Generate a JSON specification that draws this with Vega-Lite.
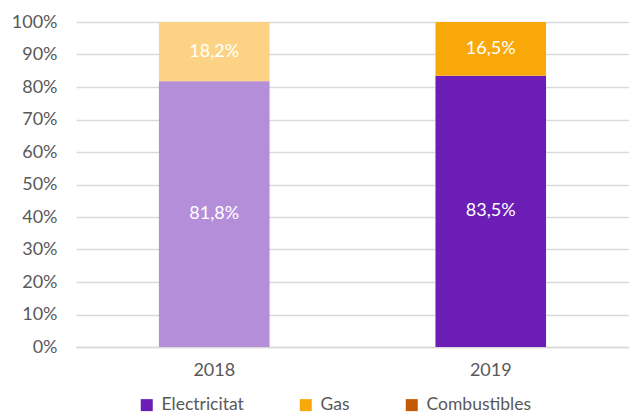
{
  "$schema": "https://vega.github.io/schema/vega-lite/v6.json",
  "width": 553,
  "height": 325,
  "autosize": "none",
  "padding": {"left": 76, "top": 22, "right": 0, "bottom": 67},
  "background": "white",
  "data": {
    "values": [
      {"year": "2018", "tipus": "Electricitat", "value": 0.818},
      {"year": "2018", "tipus": "Gas", "value": 0.182},
      {"year": "2018", "tipus": "Combustibles", "value": 0},
      {"year": "2019", "tipus": "Electricitat", "value": 0.835},
      {"year": "2019", "tipus": "Gas", "value": 0.165},
      {"year": "2019", "tipus": "Combustibles", "value": 0}
    ]
  },
  "encoding": {
    "x": {
      "field": "year",
      "type": "nominal",
      "scale": {"paddingInner": 0, "paddingOuter": 0},
      "axis": {
        "title": null,
        "labelAngle": 0,
        "ticks": false,
        "grid": false,
        "domainColor": "#D9D9D9",
        "domainWidth": 1.5,
        "labelPadding": 14,
        "labelColor": "#595959",
        "labelFont": "Lato",
        "labelFontSize": 18
      }
    },
    "y": {
      "field": "value",
      "type": "quantitative",
      "stack": "zero",
      "scale": {"domain": [0, 1]},
      "axis": {
        "title": null,
        "format": ".0%",
        "values": [0, 0.1, 0.2, 0.3, 0.4, 0.5, 0.6, 0.7, 0.8, 0.9, 1],
        "labelOverlap": false,
        "domain": false,
        "ticks": false,
        "gridColor": "#D9D9D9",
        "gridWidth": 1.5,
        "labelPadding": 19,
        "labelColor": "#595959",
        "labelFont": "Lato",
        "labelFontSize": 18
      }
    }
  },
  "layer": [
    {
      "mark": {"type": "bar", "width": {"band": 0.4}, "color": "white"},
      "encoding": {
        "detail": {"field": "tipus"},
        "order": {"field": "tipus", "sort": "ascending"}
      }
    },
    {
      "mark": {"type": "bar", "width": {"band": 0.4}},
      "encoding": {
        "order": {"field": "tipus", "sort": "ascending"},
        "color": {
          "field": "tipus",
          "type": "nominal",
          "scale": {
            "domain": ["Electricitat", "Gas", "Combustibles"],
            "range": ["#6B1DB6", "#F9A80A", "#C55A05"]
          },
          "legend": {
            "title": null,
            "orient": "none",
            "direction": "horizontal",
            "legendX": 62,
            "legendY": 374,
            "symbolType": "square",
            "symbolSize": 144,
            "symbolStrokeWidth": 0,
            "symbolOpacity": 1,
            "labelFont": "Lato",
            "labelFontSize": 17.5,
            "labelColor": "#595959",
            "labelOffset": 6,
            "columnPadding": 53
          }
        },
        "opacity": {
          "field": "year",
          "type": "nominal",
          "scale": {"domain": ["2018", "2019"], "range": [0.5, 1]},
          "legend": null
        }
      }
    },
    {
      "transform": [
        {"stack": "value", "groupby": ["year"], "sort": [{"field": "tipus", "order": "ascending"}], "as": ["v0", "v1"]},
        {"calculate": "(datum.v0 + datum.v1) / 2", "as": "mid"},
        {"filter": "datum.value > 0"}
      ],
      "mark": {"type": "text", "color": "white", "font": "Lato", "fontSize": 18, "baseline": "middle", "align": "center"},
      "encoding": {
        "y": {"field": "mid", "type": "quantitative", "stack": null},
        "text": {"field": "value", "type": "quantitative", "format": ".1%"}
      }
    }
  ],
  "config": {
    "view": {"stroke": null},
    "locale": {
      "number": {"decimal": ",", "thousands": ".", "grouping": [3], "currency": ["", " €"]}
    }
  }
}
